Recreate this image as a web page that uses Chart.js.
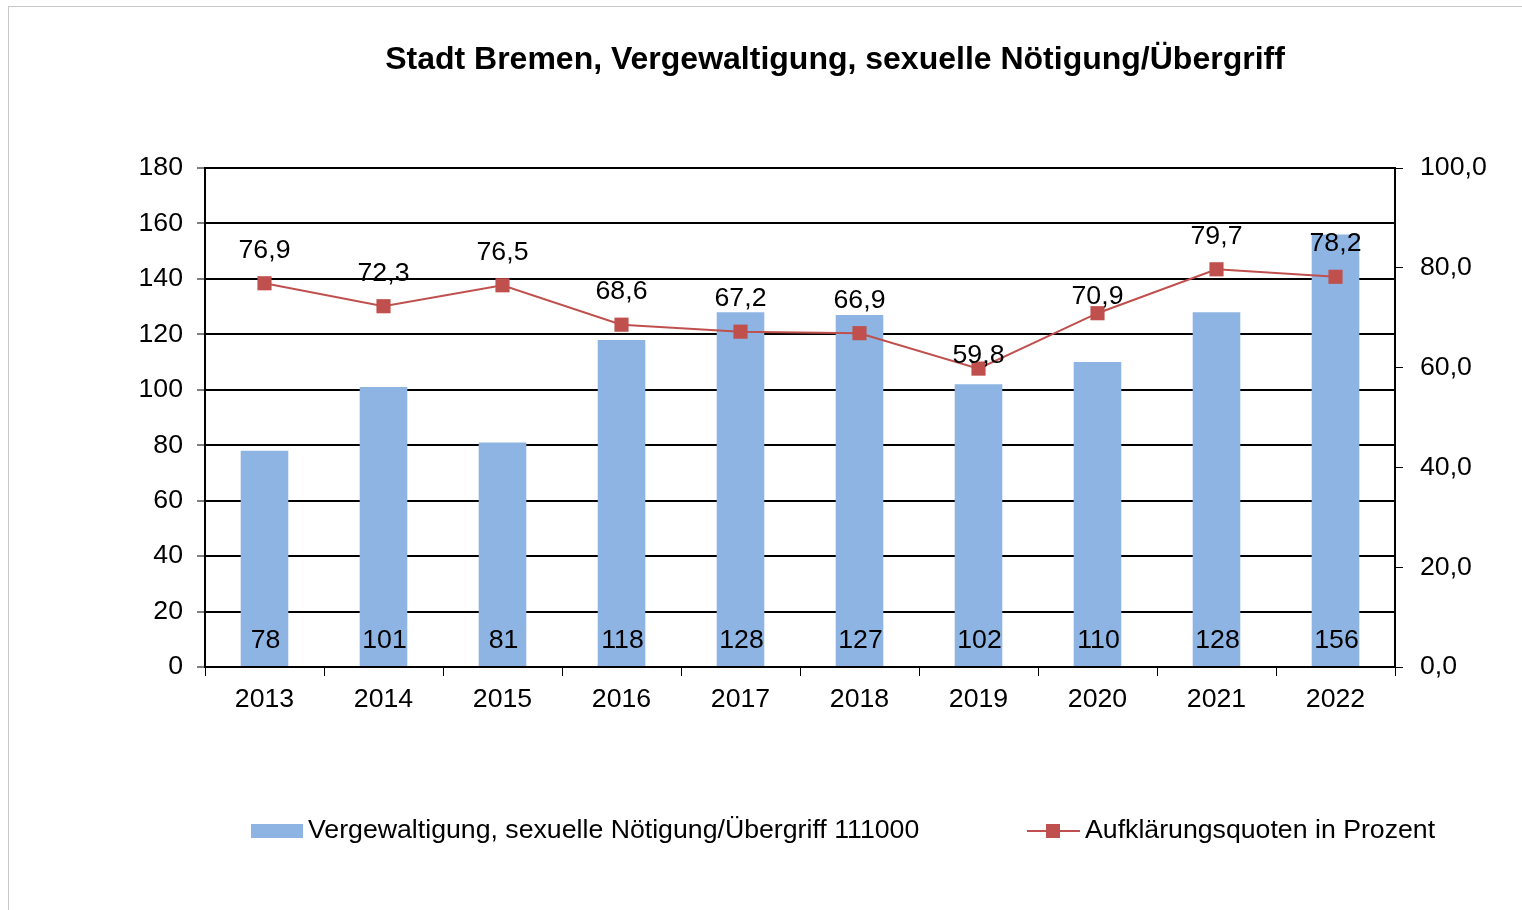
<!DOCTYPE html>
<html lang="de">
<head>
<meta charset="UTF-8" />
<title>Stadt Bremen, Vergewaltigung</title>
<script src="https://cdn.jsdelivr.net/npm/chart.js"></script>
<style>
  html, body { margin: 0; padding: 0; background: #fff; }
  .box { position: relative; width: 1522px; height: 910px; overflow: hidden; }
</style>
</head>
<body>
<div class="box">
  <canvas id="grafico" width="1522" height="910"></canvas>
</div>
<script>
  // daten
  const jahre = ["2013", "2014", "2015", "2016", "2017", "2018", "2019", "2020", "2021", "2022"];
  const faelle = [78, 101, 81, 118, 128, 127, 102, 110, 128, 156];
  const quoten = [76.9, 72.3, 76.5, 68.6, 67.2, 66.9, 59.8, 70.9, 79.7, 78.2];
  const linksTicks = [0, 20, 40, 60, 80, 100, 120, 140, 160, 180];
  const rechtsTicks = [0, 20, 40, 60, 80, 100];

  const titel = "Stadt Bremen, Vergewaltigung, sexuelle Nötigung/Übergriff";
  const legendeBalken = "Vergewaltigung, sexuelle Nötigung/Übergriff 111000";
  const legendeLinie = "Aufklärungsquoten in Prozent";

  const schrift = "'Liberation Sans', Arial, sans-serif";
  const groesse = 26.7;
  const blau = "#8EB4E3";
  const rot = "#C0504D";

  function komma(v) {
    return v.toFixed(1).replace(".", ",");
  }

  // abstand der quoten-beschriftung über dem punkt (2019/2020 im original näher dran)
  const abstandLabel = (i) => (i === 6 ? 13 : i === 7 ? 17 : 33);

  // rahmen, titel, legende und werte selbst zeichnen
  const extras = {
    id: "extras",
    beforeDraw(chart) {
      const ctx = chart.ctx;
      ctx.save();
      ctx.fillStyle = "#fff";
      ctx.fillRect(0, 0, chart.width, chart.height);
      ctx.strokeStyle = "#c8c8c8";
      ctx.lineWidth = 1;
      ctx.strokeRect(8.5, 6.5, 1530, 920);
      ctx.restore();
    },
    afterDatasetsDraw(chart) {
      const ctx = chart.ctx;
      ctx.save();

      // titel
      ctx.fillStyle = "#000";
      ctx.font = "bold 32px " + schrift;
      ctx.textAlign = "center";
      ctx.textBaseline = "middle";
      ctx.fillText(titel, 835, 60);

      // werte in den balken
      ctx.font = groesse + "px " + schrift;
      const balken = chart.getDatasetMeta(1).data;
      balken.forEach((b, i) => {
        ctx.fillText(String(faelle[i]), b.x + 1, 641);
      });

      // werte über der linie
      const punkte = chart.getDatasetMeta(0).data;
      punkte.forEach((p, i) => {
        ctx.fillText(komma(quoten[i]), p.x, p.y - abstandLabel(i));
      });

      // legende
      ctx.textAlign = "left";
      ctx.fillStyle = blau;
      ctx.fillRect(251, 824, 52, 14);
      ctx.fillStyle = "#000";
      ctx.fillText(legendeBalken, 308, 831);

      ctx.strokeStyle = rot;
      ctx.lineWidth = 2;
      ctx.beginPath();
      ctx.moveTo(1027, 831);
      ctx.lineTo(1080, 831);
      ctx.stroke();
      ctx.fillStyle = rot;
      ctx.fillRect(1046, 824, 14, 14);
      ctx.fillStyle = "#000";
      ctx.fillText(legendeLinie, 1085, 831);
      ctx.restore();
    },
  };

  const config = {
    data: {
      labels: jahre,
      datasets: [
        {
          type: "line",
          label: legendeLinie,
          data: quoten,
          yAxisID: "yRechts",
          borderColor: rot,
          backgroundColor: rot,
          borderWidth: 2,
          pointStyle: "rect",
          pointRadius: 10,
          pointHoverRadius: 10,
          pointBorderWidth: 0,
          tension: 0,
          order: 0,
        },
        {
          type: "bar",
          label: legendeBalken,
          data: faelle,
          yAxisID: "yLinks",
          backgroundColor: blau,
          borderWidth: 0,
          barPercentage: 0.4,
          categoryPercentage: 1,
          order: 1,
        },
      ],
    },
    options: {
      responsive: false,
      animation: false,
      devicePixelRatio: 1,
      layout: { padding: { top: 168, left: 1, right: 0, bottom: 0 } },
      plugins: {
        legend: { display: false },
        title: { display: false },
        tooltip: { enabled: false },
      },
      scales: {
        x: {
          offset: true,
          grid: {
            offset: true,
            drawOnChartArea: false,
            drawTicks: true,
            tickLength: 9,
            color: "#000",
            lineWidth: 1,
          },
          border: { color: "#000", width: 2 },
          ticks: {
            color: "#000",
            font: { size: groesse, family: schrift },
            padding: 8,
            maxRotation: 0,
          },
          afterFit(scale) {
            scale.height = 243;
          },
        },
        yLinks: {
          position: "left",
          min: 0,
          max: 180,
          afterBuildTicks(scale) {
            scale.ticks = linksTicks.map((v) => ({ value: v }));
          },
          grid: {
            color: "#000",
            lineWidth: 2,
            tickLength: 8,
            tickColor: "#000",
            tickWidth: 1,
          },
          border: { color: "#000", width: 2 },
          ticks: {
            color: "#000",
            font: { size: groesse, family: schrift },
            padding: 14,
          },
          afterFit(scale) {
            scale.width = 204;
          },
        },
        yRechts: {
          position: "right",
          min: 0,
          max: 100,
          afterBuildTicks(scale) {
            scale.ticks = rechtsTicks.map((v) => ({ value: v }));
          },
          grid: {
            drawOnChartArea: false,
            tickLength: 8,
            color: "#000",
            lineWidth: 1,
          },
          border: { color: "#000", width: 2 },
          ticks: {
            color: "#000",
            font: { size: groesse, family: schrift },
            padding: 17,
            callback: (v) => komma(v),
          },
          afterFit(scale) {
            scale.width = 127;
          },
        },
      },
    },
    plugins: [extras],
  };

  new Chart(document.getElementById("grafico"), config);
</script>
</body>
</html>
